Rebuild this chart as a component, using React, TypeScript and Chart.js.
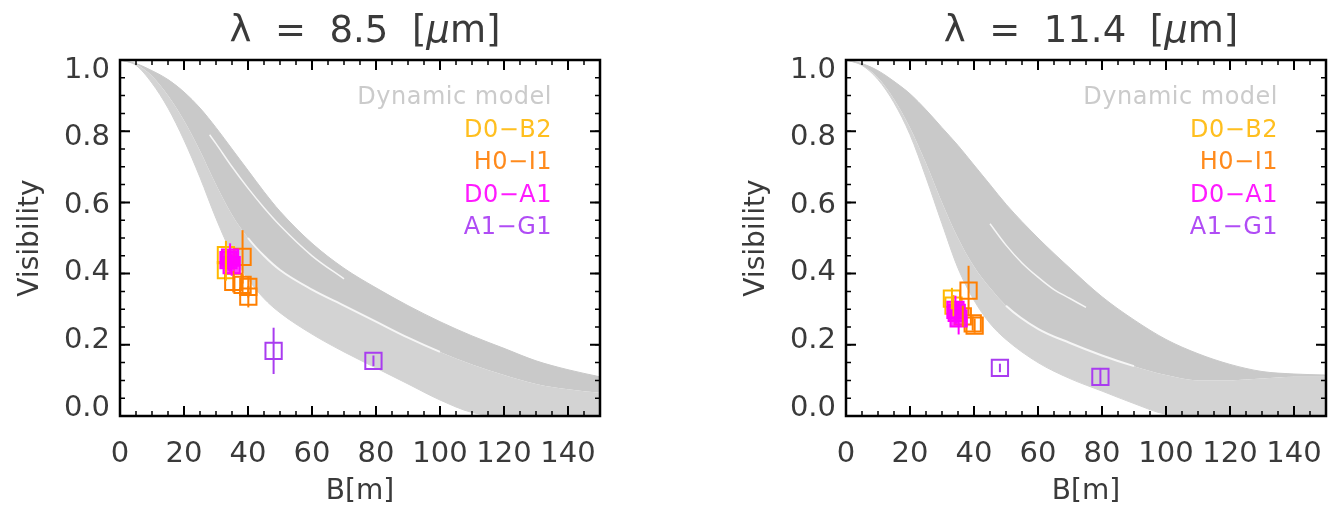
import React, { useEffect, useRef } from 'react';
import { Chart, registerables } from 'chart.js';
Chart.register(...registerables);

const FONT = "'DejaVu Sans', sans-serif";
Chart.defaults.font.family = FONT;

// ---- shared axes ----
const xTickValues = [0, 20, 40, 60, 80, 100, 120, 140];
const yTickValues = [0, 0.2, 0.4, 0.6, 0.8, 1.0];
const xMinorStep = 5;
const yMinorStep = 0.05;

// ---- model band sample baselines [m] ----
const bGrid = [0, 5, 10, 15, 20, 25, 30, 35, 40, 45, 50, 60, 70, 80, 90, 100, 110, 120, 130, 140, 150];

// ---- lambda = 8.5 um ----
const upper85 = [1.0, 0.99, 0.97, 0.945, 0.91, 0.865, 0.81, 0.75, 0.69, 0.63, 0.575, 0.485, 0.415, 0.36, 0.31, 0.265, 0.225, 0.19, 0.155, 0.13, 0.11];
const mid85 = [1.0, 0.988, 0.955, 0.9, 0.83, 0.745, 0.65, 0.565, 0.5, 0.45, 0.41, 0.355, 0.31, 0.265, 0.22, 0.18, 0.145, 0.115, 0.09, 0.075, 0.065];
const lower85 = [1.0, 0.985, 0.935, 0.865, 0.775, 0.67, 0.555, 0.455, 0.385, 0.33, 0.29, 0.23, 0.18, 0.135, 0.09, 0.045, 0.01, 0, 0, 0, 0];
const gapB85 = [28, 30, 35, 40, 45, 50, 60, 70];
const gapV85 = [0.79, 0.765, 0.7, 0.64, 0.585, 0.535, 0.45, 0.385];

const d0b2B85 = [33.1, 33.1];
const d0b2V85 = [0.452, 0.41];
const d0b2E85 = [0.04, 0.03];
const h0i1B85 = [38.3, 35.4, 38.3, 40.1, 40.1];
const h0i1V85 = [0.447, 0.377, 0.368, 0.363, 0.335];
const h0i1E85 = [0.075, 0.03, 0.03, 0.03, 0.03];
const d0a1B85 = [33.9, 34.9, 34.4];
const d0a1V85 = [0.438, 0.424, 0.445];
const d0a1E85 = [0.03, 0.03, 0.04];
const a1g1B85 = [48.0, 79.2];
const a1g1V85 = [0.183, 0.155];
const a1g1E85 = [0.065, 0.015];

// ---- lambda = 11.4 um ----
const upper114 = [1.0, 0.99, 0.97, 0.94, 0.905, 0.86, 0.81, 0.76, 0.705, 0.65, 0.595, 0.5, 0.415, 0.335, 0.27, 0.215, 0.175, 0.145, 0.125, 0.118, 0.115];
const mid114 = [1.0, 0.985, 0.95, 0.89, 0.81, 0.71, 0.6, 0.5, 0.42, 0.36, 0.31, 0.245, 0.205, 0.17, 0.14, 0.115, 0.1, 0.1, 0.105, 0.11, 0.11];
const lower114 = [1.0, 0.985, 0.945, 0.88, 0.79, 0.67, 0.54, 0.415, 0.325, 0.26, 0.215, 0.15, 0.105, 0.07, 0.035, 0.005, 0, 0, 0, 0, 0];
const gapB114 = [45, 50, 55, 60, 65, 70, 75];
const gapV114 = [0.54, 0.48, 0.43, 0.39, 0.355, 0.33, 0.305];

const d0b2B114 = [33.1, 33.6];
const d0b2V114 = [0.33, 0.31];
const d0b2E114 = [0.03, 0.03];
const h0i1B114 = [38.3, 40.2, 39.6, 36.5];
const h0i1V114 = [0.352, 0.254, 0.26, 0.28];
const h0i1E114 = [0.07, 0.02, 0.02, 0.03];
const d0a1B114 = [34.2, 35.2, 34.6];
const d0a1V114 = [0.298, 0.274, 0.29];
const d0a1E114 = [0.04, 0.045, 0.03];
const a1g1B114 = [48.1, 79.5];
const a1g1V114 = [0.135, 0.11];
const a1g1E114 = [0.012, 0.025];

const legendNames = ['Dynamic model', 'D0\u2212B2', 'H0\u2212I1', 'D0\u2212A1', 'A1\u2212G1'];
const legendColors = ['#cbcbcb', '#ffbf1f', '#ff8a1c', '#ff1aff', '#b04cf5'];
const COL_D0B2 = '#ffb800';
const COL_H0I1 = '#ff7f00';
const COL_D0A1 = '#ff00ff';
const COL_A1G1 = '#a93cf0';

const pts = (xs: number[], ys: number[]) => xs.map((x, i) => ({ x, y: ys[i] }));

function pointSet(label: string, color: string, xs: number[], ys: number[], errs: number[], order: number, fill?: string) {
  return {
    label,
    data: pts(xs, ys),
    errors: errs,
    showLine: false,
    pointStyle: 'rect',
    pointRadius: 11.5,
    pointBorderWidth: 2,
    borderColor: color,
    pointBorderColor: color,
    pointBackgroundColor: fill || 'rgba(255,255,255,0)',
    backgroundColor: fill || 'rgba(255,255,255,0)',
    order,
  };
}

const errorBarPlugin = {
  id: 'errorBars',
  afterDatasetsDraw(chart: any) {
    const ctx = chart.ctx;
    const ys = chart.scales.y;
    ctx.save();
    chart.data.datasets.forEach((ds: any, di: number) => {
      if (!ds.errors) return;
      const meta = chart.getDatasetMeta(di);
      ctx.strokeStyle = ds.borderColor;
      ctx.lineWidth = 2;
      meta.data.forEach((el: any, i: number) => {
        const v = ds.data[i].y;
        const e = ds.errors[i];
        ctx.beginPath();
        ctx.moveTo(el.x, ys.getPixelForValue(v + e));
        ctx.lineTo(el.x, ys.getPixelForValue(v - e));
        ctx.stroke();
      });
    });
    ctx.restore();
  },
};

const framePlugin = {
  id: 'frame',
  afterDraw(chart: any) {
    const ctx = chart.ctx;
    const { left, right, top, bottom } = chart.chartArea;
    const xs = chart.scales.x;
    const ys = chart.scales.y;
    ctx.save();
    ctx.strokeStyle = '#000';
    ctx.lineCap = 'butt';
    ctx.lineWidth = 1.5;
    for (let v = xs.min; v <= xs.max + 1e-9; v += xMinorStep) {
      const px = xs.getPixelForValue(v);
      ctx.beginPath();
      ctx.moveTo(px, bottom); ctx.lineTo(px, bottom - 5);
      ctx.moveTo(px, top); ctx.lineTo(px, top + 5);
      ctx.stroke();
    }
    for (let v = ys.min; v <= ys.max + 1e-9; v += yMinorStep) {
      const py = ys.getPixelForValue(v);
      ctx.beginPath();
      ctx.moveTo(left, py); ctx.lineTo(left + 5, py);
      ctx.moveTo(right, py); ctx.lineTo(right - 5, py);
      ctx.stroke();
    }
    ctx.lineWidth = 2;
    xTickValues.forEach((v) => {
      const px = xs.getPixelForValue(v);
      ctx.beginPath();
      ctx.moveTo(px, bottom); ctx.lineTo(px, bottom - 10);
      ctx.moveTo(px, top); ctx.lineTo(px, top + 10);
      ctx.stroke();
    });
    yTickValues.forEach((v) => {
      const py = ys.getPixelForValue(v);
      ctx.beginPath();
      ctx.moveTo(left, py); ctx.lineTo(left + 10, py);
      ctx.moveTo(right, py); ctx.lineTo(right - 10, py);
      ctx.stroke();
    });
    ctx.lineWidth = 2.5;
    ctx.strokeRect(left, top, right - left, bottom - top);
    ctx.restore();
  },
};

const textPlugin = {
  id: 'panelText',
  afterDraw(chart: any, _args: any, opts: any) {
    const ctx = chart.ctx;
    const { left, right, top } = chart.chartArea;
    ctx.save();
    ctx.textBaseline = 'middle';
    ctx.fillStyle = '#3a3a3a';
    const segs = [
      { t: '\u03bb  =  ' + opts.wave + '  [', it: false },
      { t: '\u03bc', it: true },
      { t: 'm]', it: false },
    ];
    let total = 0;
    segs.forEach((s) => {
      ctx.font = `${s.it ? 'italic ' : ''}37px ${FONT}`;
      total += ctx.measureText(s.t).width;
    });
    let x = (left + right) / 2 + 5 - total / 2;
    segs.forEach((s) => {
      ctx.font = `${s.it ? 'italic ' : ''}37px ${FONT}`;
      ctx.textAlign = 'left';
      ctx.fillText(s.t, x, 32);
      x += ctx.measureText(s.t).width;
    });
    ctx.font = `24px ${FONT}`;
    (ctx as any).letterSpacing = '0.5px';
    ctx.textAlign = 'right';
    legendNames.forEach((name, i) => {
      ctx.fillStyle = legendColors[i];
      ctx.fillText(name, right - 48, top + 38 + i * 32.5);
    });
    ctx.restore();
  },
};

function buildConfig(p: any) {
  const gray = '#c9c9c9';
  const grayLight = '#d3d3d3';
  return {
    type: 'scatter',
    data: {
      datasets: [
        {
          label: 'upper', data: pts(bGrid, p.upper), showLine: true, borderColor: gray, borderWidth: 1,
          pointRadius: 0, fill: '+1', backgroundColor: gray, cubicInterpolationMode: 'monotone', order: 10,
        },
        {
          label: 'mid', data: pts(bGrid, p.mid), showLine: true, borderWidth: 2, pointRadius: 0,
          fill: '+1', backgroundColor: grayLight, cubicInterpolationMode: 'monotone', order: 9,
          borderColor: 'rgba(255,255,255,0)',
          segment: {
            borderColor: (c: any) => (c.p0.parsed.x >= p.gap2From && c.p1.parsed.x <= p.gap2To ? '#f6f6f6' : 'rgba(255,255,255,0)'),
          },
        },
        {
          label: 'lower', data: pts(bGrid, p.lower), showLine: true, borderColor: grayLight, borderWidth: 1,
          pointRadius: 0, fill: false, cubicInterpolationMode: 'monotone', order: 11,
        },
        {
          label: 'gap', data: pts(p.gapB, p.gapV), showLine: true, borderColor: '#f6f6f6', borderWidth: 1.5,
          pointRadius: 0, fill: false, cubicInterpolationMode: 'monotone', order: 8,
        },
        pointSet('D0-B2', COL_D0B2, p.d0b2B, p.d0b2V, p.d0b2E, 3),
        pointSet('H0-I1', COL_H0I1, p.h0i1B, p.h0i1V, p.h0i1E, 2),
        pointSet('D0-A1', COL_D0A1, p.d0a1B, p.d0a1V, p.d0a1E, 1, 'rgba(255,0,255,0.75)'),
        pointSet('A1-G1', COL_A1G1, p.a1g1B, p.a1g1V, p.a1g1E, 0),
      ],
    },
    options: {
      animation: false,
      responsive: false,
      devicePixelRatio: 1,
      layout: { padding: { top: 60, right: 18, left: 0, bottom: 0 } },
      plugins: {
        legend: { display: false },
        tooltip: { enabled: false },
        title: { display: false },
        panelText: { wave: p.wave },
      },
      scales: {
        x: {
          type: 'linear', min: 0, max: 150, position: 'bottom',
          grid: { display: false, drawTicks: false },
          border: { display: false },
          afterBuildTicks: (s: any) => { s.ticks = xTickValues.map((v) => ({ value: v })); },
          afterFit: (s: any) => { s.height = 96; },
          ticks: {
            padding: 21, color: '#3a3a3a', font: { family: FONT, size: 29 }, maxRotation: 0, autoSkip: false,
            callback: (v: any) => String(v),
          },
          title: { display: true, text: 'B[m]', color: '#3a3a3a', font: { family: FONT, size: 28 }, padding: { top: 0, bottom: 3 } },
        },
        y: { type: 'linear', min: 0, max: 1, display: false },
        yl: {
          type: 'linear', position: 'left', min: -0.0237, max: 1.0296,
          grid: { display: false, drawTicks: false },
          border: { display: false },
          afterBuildTicks: (s: any) => { s.ticks = yTickValues.map((v) => ({ value: v })); },
          afterFit: (s: any) => { s.width = 120; },
          ticks: { padding: 10, color: '#3a3a3a', font: { family: FONT, size: 29 }, callback: (v: any) => Number(v).toFixed(1) },
          title: { display: true, text: 'Visibility', color: '#3a3a3a', font: { family: FONT, size: 28 }, padding: { top: 14, bottom: 0 } },
        },
      },
    },
    plugins: [errorBarPlugin, framePlugin, textPlugin],
  };
}

const panel85 = {
  wave: '8.5', upper: upper85, mid: mid85, lower: lower85, gapB: gapB85, gapV: gapV85, gap2From: 40, gap2To: 100,
  d0b2B: d0b2B85, d0b2V: d0b2V85, d0b2E: d0b2E85, h0i1B: h0i1B85, h0i1V: h0i1V85, h0i1E: h0i1E85,
  d0a1B: d0a1B85, d0a1V: d0a1V85, d0a1E: d0a1E85, a1g1B: a1g1B85, a1g1V: a1g1V85, a1g1E: a1g1E85,
};
const panel114 = {
  wave: '11.4', upper: upper114, mid: mid114, lower: lower114, gapB: gapB114, gapV: gapV114, gap2From: 50, gap2To: 90,
  d0b2B: d0b2B114, d0b2V: d0b2V114, d0b2E: d0b2E114, h0i1B: h0i1B114, h0i1V: h0i1V114, h0i1E: h0i1E114,
  d0a1B: d0a1B114, d0a1V: d0a1V114, d0a1E: d0a1E114, a1g1B: a1g1B114, a1g1V: a1g1V114, a1g1E: a1g1E114,
};

function Panel({ cfg, left }: { cfg: any; left: number }) {
  const ref = useRef<HTMLCanvasElement>(null);
  useEffect(() => {
    const chart = new Chart(ref.current as HTMLCanvasElement, buildConfig(cfg) as any);
    return () => chart.destroy();
  }, [cfg]);
  return (
    <div style={{ position: 'absolute', left, top: 0, width: 618, height: 512 }}>
      <canvas ref={ref} width={618} height={512} style={{ width: 618, height: 512, display: 'block' }} />
    </div>
  );
}

export default function App() {
  return (
    <div style={{ position: 'absolute', left: 0, top: 0, width: 1344, height: 512, background: '#fff' }}>
      <Panel cfg={panel85} left={0} />
      <Panel cfg={panel114} left={726} />
    </div>
  );
}
